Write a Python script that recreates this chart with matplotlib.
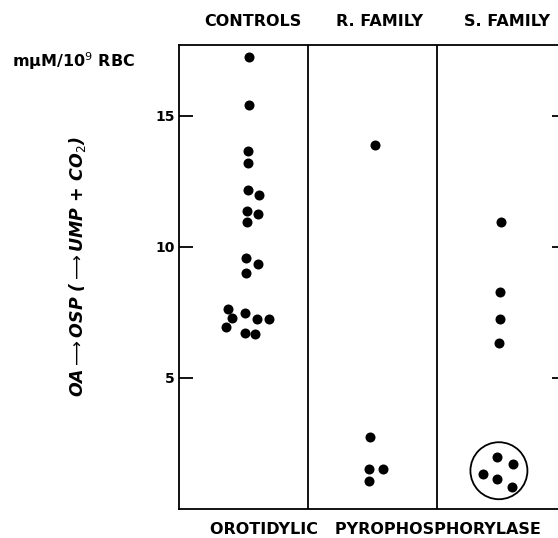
import numpy as np
import matplotlib
matplotlib.use("Agg")
import matplotlib.pyplot as plt
from matplotlib.patches import Ellipse

# values (mμM / 10^9 RBC)
groups = ["CONTROLS", "R. FAMILY", "S. FAMILY"]
controls_x = [0.543, 0.543, 0.535, 0.535, 0.533, 0.618, 0.527, 0.615, 0.525, 0.519,
              0.610, 0.517, 0.382, 0.413, 0.367, 0.509, 0.602, 0.695, 0.509, 0.591]
controls_y = [17.26, 15.42, 13.64, 13.19, 12.17, 11.98, 11.35, 11.25, 10.94, 9.59,
              9.33, 9.00, 7.62, 7.28, 6.96, 7.47, 7.24, 7.24, 6.71, 6.67]
rfam_x = [1.522, 1.481, 1.473, 1.579, 1.471]
rfam_y = [13.89, 2.74, 1.52, 1.52, 1.08]
sfam_x = [2.498, 2.488, 2.486, 2.483, 2.467, 2.587, 2.354, 2.467, 2.584]
sfam_y = [10.94, 8.28, 7.24, 6.34, 1.97, 1.71, 1.34, 1.13, 0.85]
yticks = [5, 10, 15]

plt.rcParams['mathtext.fontset'] = 'dejavusans'

fig = plt.figure(figsize=(5.58, 5.38), dpi=100)
W, H = 558, 538
left, right, top, bottom = 179, 566, 45, 509
ax = fig.add_axes([left / W, 1 - bottom / H, (right - left) / W, (bottom - top) / H])

ax.set_xlim(0, 3)
ax.set_ylim(0, 17.7)

for xs, ys in [(controls_x, controls_y), (rfam_x, rfam_y), (sfam_x, sfam_y)]:
    ax.scatter(xs, ys, s=52, color="black", zorder=3, linewidths=0)

# ring round the five lowest S. family values
px_x = (right - left) / 3
px_y = (bottom - top) / 17.7
r = 28.5
ax.add_patch(Ellipse((2.48, 1.46), 2 * r / px_x, 2 * r / px_y,
                     fill=False, edgecolor="black", linewidth=1.3))

for xv in [1, 2]:
    ax.axvline(xv, color="black", linewidth=1.3)

for s in ax.spines.values():
    s.set_linewidth(1.3)

ax.set_xticks([])
ax.set_yticks(yticks)
ax.set_yticklabels([str(v) for v in yticks], fontsize=10, fontweight="bold")
ax.tick_params(axis="y", direction="in", length=10, width=1.3, pad=3,
               right=True, labelright=False)

# headers
head_x = [253, 380, 507]
for hx, g in zip(head_x, groups):
    fig.text(hx / W, 1 - 22 / H, g, ha="center", va="center",
             fontsize=11.5, fontweight="bold")

fig.text(12 / W, 1 - 61 / H, "mμM/10$^{9}$ RBC", ha="left", va="center",
         fontsize=11.5, fontweight="bold")

fig.text(77 / W, 1 - 267 / H,
         "OA$\\longrightarrow$OSP ($\\longrightarrow$UMP + CO$_2$)", rotation=90,
         ha="center", va="center", fontsize=12.5, fontweight="bold", style="italic")

fig.text(375 / W, 1 - 530 / H, "OROTIDYLIC   PYROPHOSPHORYLASE", ha="center",
         va="center", fontsize=11.5, fontweight="bold")

fig.savefig("out.png", dpi=100)
